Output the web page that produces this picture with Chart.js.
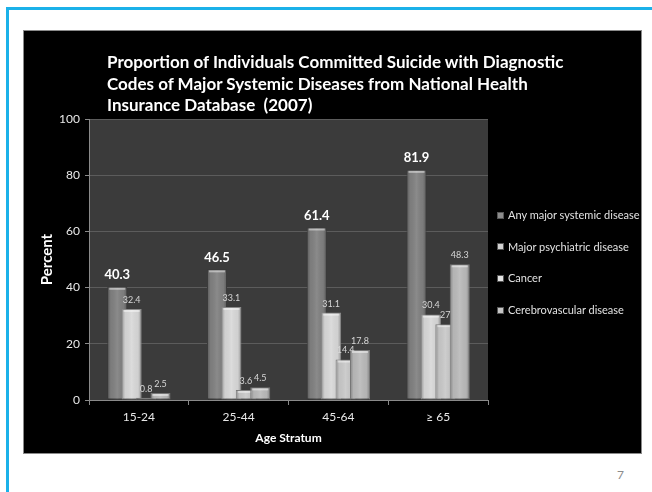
<!DOCTYPE html>
<html>
<head>
<meta charset="utf-8">
<script src="https://cdn.jsdelivr.net/npm/chart.js@4/dist/chart.umd.min.js"></script>
<style>
  html, body { margin: 0; padding: 0; background: #fff; }
  body { width: 652px; height: 492px; position: relative; overflow: hidden; font-family: Lato, "Open Sans", sans-serif; }
  .rule-top { position: absolute; left: 6px; top: 7px; width: 646px; height: 3px; background: #1bb1e9; }
  .rule-left { position: absolute; left: 6px; top: 7px; width: 3px; height: 485px; background: #1bb1e9; }
  .panel { position: absolute; left: 24px; top: 31px; width: 617px; height: 422px; background: #000; outline: 1px solid #8a8a8a; }
  .panel canvas { position: absolute; left: 0; top: 0; }
  .title { position: absolute; left: 83px; top: 20px; color: #fff; font-weight: bold; font-size: 17px; line-height: 21.5px; white-space: nowrap; }
  .legend { position: absolute; left: 473px; top: 168px; color: #e2e2e2; font-size: 11px; }
  .legend div { height: 31.7px; line-height: 31.7px; white-space: nowrap; }
  .legend span.box { display: inline-block; width: 7px; height: 7px; margin-right: 4px; vertical-align: middle; position: relative; top: -1px; box-sizing: border-box; border: 1px solid #555; }
  .pageno { position: absolute; left: 617px; top: 467px; color: #8c8c8c; font-size: 12px; }
</style>
</head>
<body>
<div class="rule-top"></div>
<div class="rule-left"></div>
<div class="panel">
  <canvas id="chart" width="617" height="422"></canvas>
  <div class="title">Proportion of Individuals Committed Suicide with Diagnostic<br>Codes of Major Systemic Diseases from National Health<br>Insurance Database&nbsp; (2007)</div>
  <div class="legend" id="legend"></div>
</div>
<div class="pageno">7</div>
<script>
// Age groups and percentages per diagnosis group
const categories = ['15-24', '25-44', '45-64', '\u2265 65'];
const anyMajor = [40.3, 46.5, 61.4, 81.9];
const psychiatric = [32.4, 33.1, 31.1, 30.4];
const cancer = [0.8, 3.6, 14.4, 27];
const cerebrovascular = [2.5, 4.5, 17.8, 48.3];
const seriesNames = ['Any major systemic disease', 'Major psychiatric disease', 'Cancer', 'Cerebrovascular disease'];
const yTicks = [0, 20, 40, 60, 80, 100];

const fills = ['#818181', '#d9d9d9', '#c9c9c9', '#bbbbbb'];
const edges = ['#3a3a3a', '#8a8a8a', '#7a7a7a', '#767676'];
const legendFills = ['#8c8c8c', '#d2d2d2', '#e4e4e4', '#c6c6c6'];

// HTML legend
const legendEl = document.getElementById('legend');
seriesNames.forEach((name, i) => {
  const row = document.createElement('div');
  const box = document.createElement('span');
  box.className = 'box';
  box.style.background = legendFills[i];
  row.appendChild(box);
  row.appendChild(document.createTextNode(name));
  legendEl.appendChild(row);
});

const FONT = 'Lato, "Open Sans", sans-serif';

// plot area background
const plotBackground = {
  id: 'plotBackground',
  beforeDraw(chart) {
    const {ctx, chartArea: a} = chart;
    ctx.save();
    ctx.fillStyle = '#3b3b3b';
    ctx.fillRect(a.left, a.top, a.right - a.left, a.bottom - a.top);
    ctx.restore();
  }
};

// draw series in legend order so later bars overlap earlier ones, with a bevel sheen and value labels
const bevelBars = {
  id: 'bevelBars',
  beforeDatasetsDraw(chart) {
    const ctx = chart.ctx;
    chart.data.datasets.forEach((ds, i) => {
      const meta = chart.getDatasetMeta(i);
      meta.controller.draw();
      meta.data.forEach(bar => {
        const {x, y, base, width} = bar.getProps(['x', 'y', 'base', 'width'], true);
        const left = x - width / 2;
        const h = base - y;
        ctx.save();
        const g = ctx.createLinearGradient(left, 0, left + width, 0);
        g.addColorStop(0, 'rgba(0,0,0,0.30)');
        g.addColorStop(0.18, 'rgba(0,0,0,0.04)');
        g.addColorStop(0.5, 'rgba(255,255,255,0.08)');
        g.addColorStop(0.82, 'rgba(0,0,0,0.04)');
        g.addColorStop(1, 'rgba(0,0,0,0.30)');
        ctx.fillStyle = g;
        ctx.fillRect(left + 1, y + 1, width - 2, h - 1);
        if (h > 3) {
          ctx.fillStyle = 'rgba(255,255,255,0.45)';
          ctx.fillRect(left + 2, y + 1, width - 4, 2);
        }
        ctx.restore();
      });
    });
    ctx.save();
    ctx.textAlign = 'center';
    ctx.textBaseline = 'middle';
    chart.data.datasets.forEach((ds, i) => {
      const meta = chart.getDatasetMeta(i);
      meta.data.forEach((bar, j) => {
        const {x, y} = bar.getProps(['x', 'y'], true);
        if (i === 0) {
          ctx.font = 'bold 13px ' + FONT;
          ctx.fillStyle = '#ffffff';
          ctx.fillText(String(ds.data[j]), x, y - 12);
        } else {
          ctx.font = '9px ' + FONT;
          ctx.fillStyle = '#d6d6d6';
          ctx.fillText(String(ds.data[j]), x, y - 9);
        }
      });
    });
    ctx.restore();
    return false;
  }
};

const seriesData = [anyMajor, psychiatric, cancer, cerebrovascular];

new Chart(document.getElementById('chart'), {
  type: 'bar',
  data: {
    labels: categories,
    datasets: seriesData.map((d, i) => ({
      label: seriesNames[i],
      data: d,
      backgroundColor: fills[i],
      borderColor: edges[i],
      borderWidth: 1,
      borderSkipped: false,
      categoryPercentage: 0.578,
      barPercentage: 1.39
    }))
  },
  options: {
    responsive: false,
    animation: false,
    devicePixelRatio: 1,
    layout: { padding: { left: 5, right: 153, top: 88, bottom: 0 } },
    plugins: {
      legend: { display: false },
      title: { display: false },
      tooltip: { enabled: false }
    },
    scales: {
      x: {
        grid: { display: true, drawOnChartArea: false, drawTicks: true, tickLength: 5, color: '#8a8a8a', offset: true },
        border: { display: true, color: '#8a8a8a' },
        ticks: { color: '#e8e8e8', font: { family: FONT, size: 12 }, padding: 5 },
        title: { display: true, text: 'Age Stratum', color: '#ffffff', font: { family: FONT, size: 12, weight: 'bold' }, padding: { top: 0, bottom: 8 } },
        afterFit(scale) { scale.height = 53; }
      },
      y: {
        min: 0,
        max: 100,
        afterBuildTicks(scale) { scale.ticks = yTicks.map(v => ({ value: v })); },
        grid: { color: '#5c5c5c', tickColor: '#8a8a8a', tickLength: 4, drawTicks: true },
        border: { display: true, color: '#8a8a8a' },
        ticks: { color: '#e8e8e8', font: { family: FONT, size: 12 }, padding: 5 },
        title: { display: true, text: 'Percent', color: '#ffffff', font: { family: FONT, size: 15, weight: 'bold' }, padding: { top: 9, bottom: 0 } },
        afterFit(scale) { scale.width = 60; }
      }
    }
  },
  plugins: [plotBackground, bevelBars]
});
</script>
</body>
</html>
